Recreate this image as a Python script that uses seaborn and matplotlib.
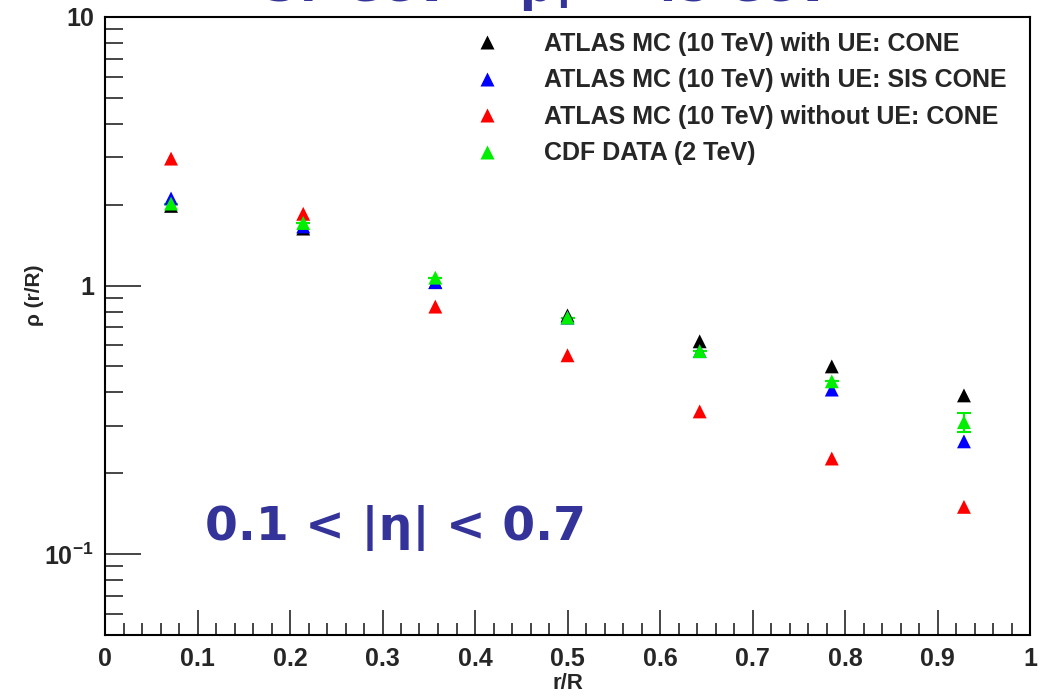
import numpy as np
import pandas as pd
import matplotlib
matplotlib.use("Agg")
import matplotlib.pyplot as plt
import seaborn as sns
from matplotlib.ticker import MultipleLocator, LogLocator, FixedLocator, NullFormatter
from matplotlib.lines import Line2D

# ---- data ----
r_bins = [0.0714, 0.2143, 0.3571, 0.5, 0.6429, 0.7857, 0.9286]
atlas_ue_cone = [1.98, 1.63, 1.03, 0.774, 0.62, 0.50, 0.39]
atlas_ue_siscone = [2.11, 1.66, 1.03, 0.76, 0.57, 0.41, 0.263]
atlas_noue_cone = [2.97, 1.85, 0.835, 0.55, 0.34, 0.227, 0.15]
cdf_data = [2.02, 1.71, 1.07, 0.76, 0.57, 0.44, 0.31]
cdf_err = [0.0, 0.0, 0.0, 0.0, 0.0, 0.0, 0.025]

labels = ["ATLAS MC (10 TeV) with UE: CONE",
          "ATLAS MC (10 TeV) with UE: SIS CONE",
          "ATLAS MC (10 TeV) without UE: CONE",
          "CDF DATA (2 TeV)"]
colors = ["#000000", "#0000ff", "#ff0000", "#00ee00"]
series = [atlas_ue_cone, atlas_ue_siscone, atlas_noue_cone, cdf_data]

df = pd.DataFrame({
    "r": np.tile(r_bins, 4),
    "rho": np.concatenate(series),
    "sample": np.repeat(labels, len(r_bins)),
})

sns.set_style("white")
plt.rcParams['font.family'] = ['Liberation Sans', 'DejaVu Sans']
plt.rcParams['mathtext.fontset'] = 'custom'
plt.rcParams['mathtext.rm'] = 'Liberation Sans'
plt.rcParams['mathtext.bf'] = 'Liberation Sans:bold'

fig = plt.figure(figsize=(10.45, 6.98), dpi=100)
ax = fig.add_axes([105/1045, 63/698, 925/1045, 618/698])

sns.scatterplot(data=df, x="r", y="rho", hue="sample", hue_order=labels,
                palette=colors, marker="^", s=100, edgecolor="none",
                legend=False, ax=ax, zorder=3)
ax.errorbar(r_bins, cdf_data, yerr=cdf_err, fmt="none", ecolor=colors[3],
            elinewidth=1.5, capsize=5, capthick=1.5, zorder=2)

ax.set_yscale("log")
ax.set_xlim(0, 1)
ax.set_ylim(0.05, 10)

for sp in ax.spines.values():
    sp.set_color("black")
    sp.set_linewidth(1.5)

ax.xaxis.set_minor_locator(MultipleLocator(0.02))
ax.set_xticks(np.round(np.arange(0, 1.01, 0.1), 1))
ax.set_xticklabels(["0", "0.1", "0.2", "0.3", "0.4", "0.5", "0.6", "0.7", "0.8", "0.9", "1"])
ax.yaxis.set_major_locator(FixedLocator([0.1, 1, 10]))
ax.set_yticklabels([r"$\mathbf{10^{-1}}$", "1", "10"])
ax.yaxis.set_minor_locator(LogLocator(base=10, subs=np.arange(2, 10)))
ax.yaxis.set_minor_formatter(NullFormatter())

ax.tick_params(axis="x", which="major", direction="in", length=18, width=1.2,
               labelsize=18, pad=9, top=False, bottom=True)
ax.tick_params(axis="x", which="minor", direction="in", length=9, width=1.2,
               top=False, bottom=True)
ax.tick_params(axis="y", which="major", direction="in", length=26, width=1.2,
               labelsize=18, pad=8, left=True, right=False)
ax.tick_params(axis="y", which="minor", direction="in", length=13, width=1.2,
               left=True, right=False)
for t in ax.get_xticklabels() + ax.get_yticklabels():
    t.set_fontweight("bold")

ax.set_xlabel("r/R", fontsize=16, fontweight="bold")
ax.xaxis.set_label_coords(0.5, -0.062)
ax.set_ylabel("ρ (r/R)", fontsize=15, fontweight="bold")
ax.yaxis.set_label_coords(-0.066, 0.55)

handles = [Line2D([0], [0], marker="^", color="none", markerfacecolor=c,
                  markeredgecolor="none", markersize=9.5) for c in colors]
leg = ax.legend(handles, labels, loc="upper left", bbox_to_anchor=(0.375, 0.992),
                frameon=False, prop={"size": 18, "weight": "bold"},
                handletextpad=1.3, labelspacing=0.5, borderaxespad=0.0)

title_color = "#333399"
fig.text(205/1045, 1 - 540/698, "0.1 < |η| < 0.7", fontsize=34,
         fontweight="bold", color=title_color, family="DejaVu Sans",
         va="baseline", ha="left")
fig.text(265/1045, 1 - 1/698, "37 GeV < p$_{\\mathregular{T}}$ < 45 GeV",
         fontsize=33, fontweight="bold", color=title_color, family="DejaVu Sans",
         va="baseline", ha="left")

fig.savefig("out.png", dpi=100)
